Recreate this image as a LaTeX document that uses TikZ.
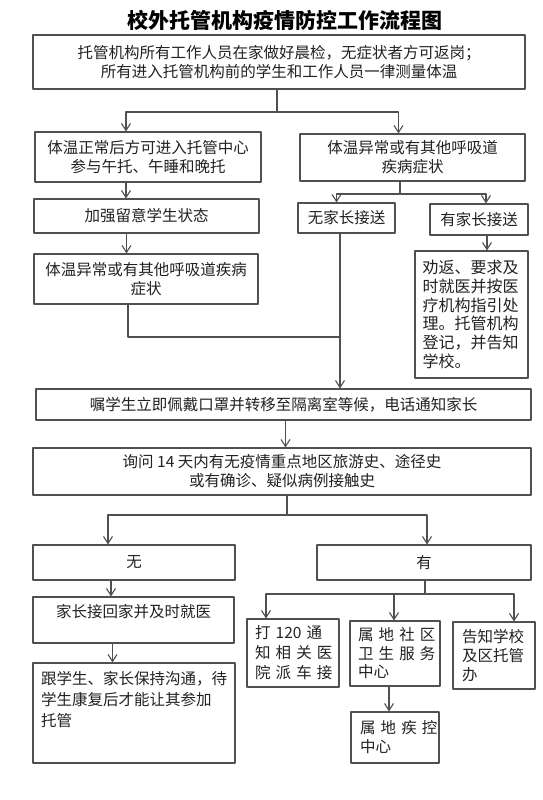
\documentclass[tikz,border=0pt]{standalone}
\usepackage{fontspec}
\setmainfont{Noto Sans CJK SC}
\usepackage{tikz}
\usetikzlibrary{arrows.meta}
\usetikzlibrary{calc}
\tikzset{>={Straight Barb[length=7pt,width=9pt]}}
\definecolor{linegray}{HTML}{505050}
\definecolor{textgray}{HTML}{222222}

\begin{document}
\begin{tikzpicture}[x=1pt,y=-1pt,line cap=round,line join=round,
	box/.style={draw=linegray,line width=1.1pt,inner sep=0pt,text=textgray,align=center,font=\fontsize{15.5}{19}\selectfont},
	link/.style={draw=linegray,line width=1.1pt}]
		\useasboundingbox[fill=white] (0,0) rectangle (543,800);
		\node[font=\fontsize{21}{24}\selectfont\bfseries,text=black] (title) at (285,20) {校外托管机构疫情防控工作流程图};
		\node[box,minimum width=492pt,minimum height=54pt] (start) at (279,62) {托管机构所有工作人员在家做好晨检，无症状者方可返岗；\\所有进入托管机构前的学生和工作人员一律测量体温};
		\node[box,minimum width=226pt,minimum height=50pt] (normal) at (148,157) {体温正常后方可进入托管中心\\参与午托、午睡和晚托};
		\node[box,minimum width=225pt,minimum height=47pt] (abnormal) at (412.5,157.5) {体温异常或有其他呼吸道\\疾病症状};
		\node[box,minimum width=225pt,minimum height=34pt] (watch) at (146.5,216) {加强留意学生状态};
		\node[box,minimum width=97pt,minimum height=30pt] (nopar) at (346.5,218) {无家长接送};
		\node[box,minimum width=98pt,minimum height=31pt] (haspar) at (479,219.5) {有家长接送};
		\node[box,minimum width=113pt,minimum height=127pt,text width=98pt,align=left,font=\fontsize{16}{18.7}\selectfont] (advise) at (471.5,314.5) {劝返、要求及\\时就医并按医\\疗机构指引处\\理。托管机构\\登记，并告知\\学校。};
		\node[box,minimum width=224pt,minimum height=50pt] (sympt) at (146,279) {体温异常或有其他呼吸道疾病\\症状};
		\node[box,minimum width=495pt,minimum height=31pt] (isolate) at (283.5,404.5) {嘱学生立即佩戴口罩并转移至隔离室等候，电话通知家长};
		\node[box,minimum width=498pt,minimum height=47pt] (ask) at (282,471.5) {询问 14 天内有无疫情重点地区旅游史、途径史\\或有确诊、疑似病例接触史};
		\node[box,minimum width=202pt,minimum height=35pt] (no) at (134,562.5) {无};
		\node[box,minimum width=214pt,minimum height=35pt] (yes) at (424,562.5) {有};
		\node[box,minimum width=201pt,text height=20pt,text depth=26pt] (home) at (133.5,620) {家长接回家并及时就医};
		\node[box,minimum width=202pt,text width=186pt,align=left,text height=21pt,text depth=79pt,font=\fontsize{15.5}{21}\selectfont] (talk) at (134,713) {跟学生、家长保持沟通，待\\学生康复后才能让其参加\\托管};
		\node[box,minimum width=92pt,minimum height=68pt,text width=76pt,align=left,font=\fontsize{15.5}{20}\selectfont] (call) at (293,653) {\makebox[76pt][s]{打 120 通}\\\makebox[76pt][s]{知 相 关 医}\\\makebox[76pt][s]{院 派 车 接}};
		\node[box,minimum width=90pt,minimum height=65pt,text width=74pt,align=left,font=\fontsize{15.5}{18.5}\selectfont] (community) at (395,653.5) {\makebox[74pt][s]{属 地 社 区}\\\makebox[74pt][s]{卫 生 服 务}\\中心};
		\node[box,minimum width=82pt,minimum height=67pt,text width=64pt,align=left] (notify) at (494,655.5) {告知学校\\及区托管\\办};
		\node[box,minimum width=88pt,minimum height=51pt,text width=70pt,align=left] (cdc) at (395,737.5) {\makebox[70pt][s]{属 地 疾 控}\\中心};
		\coordinate (f1) at (277,112);
		\draw[link] (start.south -| f1) -- (f1);
		\draw[link,->] (f1) -| ([xshift=-22pt]normal.north);
		\draw[link,->] (f1) -| ([xshift=-14pt]abnormal.north);
		\coordinate (f2) at (400,194);
		\draw[link] (abnormal.south -| f2) -- (f2);
		\draw[link,->] (f2) -| ([xshift=-10pt]nopar.north);
		\draw[link,->] (f2) -| ([xshift=7pt]haspar.north);
		\draw[link,->] ([xshift=-22pt]normal.south) -- ([xshift=-22pt]normal.south |- watch.north);
		\draw[link,->] ([xshift=-20pt]watch.south) -- ([xshift=-20pt]watch.south |- sympt.north);
		\draw[link,->] ([xshift=8pt]haspar.south) -- ([xshift=8pt]haspar.south |- advise.north);
		\coordinate (j1) at (340,337);
		\draw[link] ([xshift=-18pt]sympt.south) |- (j1);
		\draw[link,->] (nopar.south -| j1) -- (isolate.north -| j1);
		\draw[link,->] ([xshift=2pt]isolate.south) -- ([xshift=2pt]isolate.south |- ask.north);
		\coordinate (f3) at (287,515);
		\draw[link] (ask.south -| f3) -- (f3);
		\draw[link,->] (f3) -| ([xshift=-26pt]no.north);
		\draw[link,->] (f3) -| ([xshift=3pt]yes.north);
		\draw[link,->] ([xshift=-23pt]no.south) -- ([xshift=-23pt]no.south |- home.north);
		\draw[link,->] ([xshift=-21pt]home.south) -- ([xshift=-21pt]home.south |- talk.north);
		\coordinate (f4) at (425,594);
		\draw[link] (yes.south -| f4) -- (f4);
		\draw[link,->] (f4) -| ([xshift=-27pt]call.north);
		\draw[link,->] (f4) -| ([xshift=-1pt]community.north);
		\draw[link,->] (f4) -| ([xshift=20pt]notify.north);
		\draw[link,->] ([xshift=-6pt]community.south) -- ([xshift=-6pt]community.south |- cdc.north);
\end{tikzpicture}
\end{document}
